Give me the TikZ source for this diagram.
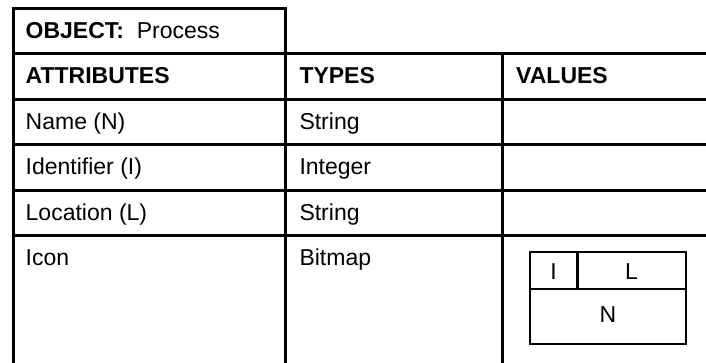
\documentclass[tikz,border=0pt]{standalone}
\usepackage{fontspec}
\setmainfont{Liberation Sans}
\begin{document}
\begin{tikzpicture}[x=1pt,y=-1pt,
  grid/.style={line width=3pt, black},
  iconline/.style={line width=2.4pt, black},
  celltext/.style={inner sep=0pt, anchor=base west, font=\fontsize{23}{27}\selectfont},
  icontext/.style={inner sep=0pt, anchor=base, font=\fontsize{23}{27}\selectfont}]
\useasboundingbox (0,0) rectangle (706,363);
% grid
\draw[grid, line join=miter] (13.5,372) -- (13.5,8.5) -- (285.8,8.5) -- (285.8,372);
\draw[grid] (502.3,53.9) -- (502.3,372);
\foreach \y in {53.9,99.3,144.7,190.1,235.5}
  \draw[grid] (13.5,\y) -- (715,\y);
% texts
\node[celltext] (obj) at (25.5,38.4) {\textbf{OBJECT:}\ \ Process};
\node[celltext] (attr) at (25.5,83.5) {\textbf{ATTRIBUTES}};
\node[celltext] (types) at (299.3,83.5) {\textbf{TYPES}};
\node[celltext] (values) at (516,83.5) {\textbf{VALUES}};
\node[celltext] (name) at (25.5,129.3) {Name (N)};
\node[celltext] (tname) at (299.3,129.3) {String};
\node[celltext] (ident) at (25.5,174.7) {Identifier (I)};
\node[celltext] (tident) at (299.3,174.7) {Integer};
\node[celltext] (loc) at (25.5,220.1) {Location (L)};
\node[celltext] (tloc) at (299.3,220.1) {String};
\node[celltext] (icon) at (25.5,265.5) {Icon};
\node[celltext] (ticon) at (299.3,265.5) {Bitmap};
% icon
\draw[iconline] (529.7,252) rectangle (686,344);
\draw[iconline] (529.7,289) -- (686,289);
\draw[iconline] (577.3,252) -- (577.3,289);
\node[icontext] (iI) at (553.5,279) {I};
\node[icontext] (iL) at (631.6,279) {L};
\node[icontext] (iN) at (607.8,322) {N};
\end{tikzpicture}
\end{document}
